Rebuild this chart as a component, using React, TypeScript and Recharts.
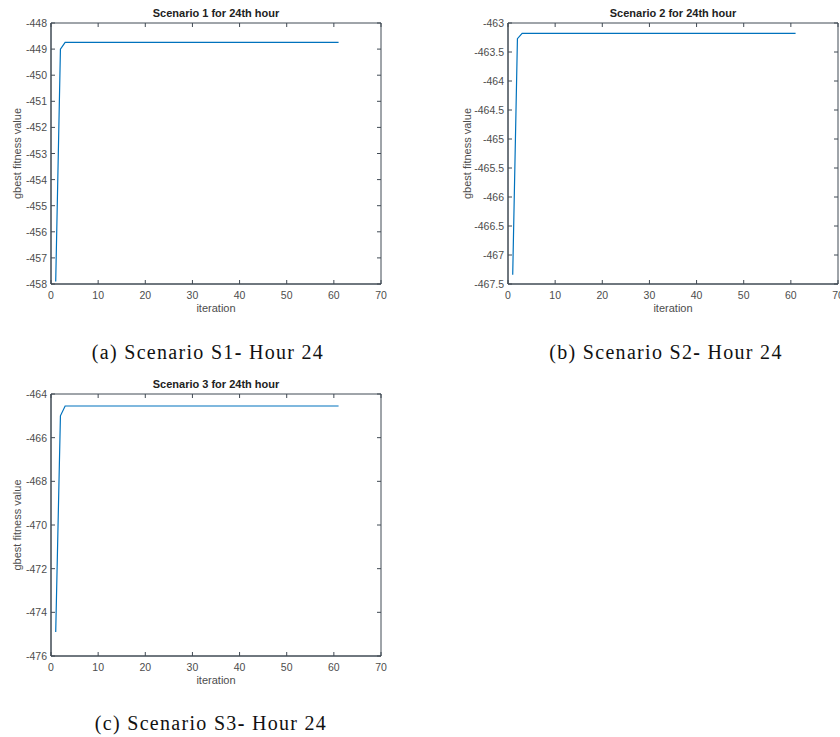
import { LineChart, Line, XAxis, YAxis, ReferenceArea } from 'recharts';

// iterations where the gbest value changes; the curve is flat after the 3rd
const iterations = [1, 2, 3, 61];
const s1Values = [-457.9, -449.0, -448.74, -448.74];
const s2Values = [-467.34, -463.27, -463.18, -463.18];
const s3Values = [-474.9, -465.0, -464.55, -464.55];

const xTicks = [0, 10, 20, 30, 40, 50, 60, 70];
const s1Ticks = [-458, -457, -456, -455, -454, -453, -452, -451, -450, -449, -448];
const s2Ticks = [-467.5, -467, -466.5, -466, -465.5, -465, -464.5, -464, -463.5, -463];
const s3Ticks = [-476, -474, -472, -470, -468, -466, -464];

const titles = ['Scenario 1 for 24th hour', 'Scenario 2 for 24th hour', 'Scenario 3 for 24th hour'];
const captions = ['(a) Scenario S1- Hour 24', '(b) Scenario S2- Hour 24', '(c) Scenario S3- Hour 24'];

const AXIS = '#404a54';
const TEXT = '#4d4d4d';
const LINE = '#0072BD';
const SANS = '"Liberation Sans", Arial, Helvetica, sans-serif';
const TICK_LEN = 4;

// matlab style: ticks point into the box
function BottomTick({ x, y, payload }: any) {
  return (
    <g>
      <line x1={x} x2={x} y1={y} y2={y - TICK_LEN} stroke={AXIS} />
      <text x={x} y={y + 15} textAnchor="middle" fontSize={10.5} fontFamily={SANS} fill={TEXT}>
        {payload.value}
      </text>
    </g>
  );
}

function LeftTick({ x, y, payload }: any) {
  return (
    <g>
      <line x1={x} x2={x + TICK_LEN} y1={y} y2={y} stroke={AXIS} />
      <text x={x - 4} y={y} textAnchor="end" dominantBaseline="central" fontSize={10.5} fontFamily={SANS} fill={TEXT}>
        {payload.value}
      </text>
    </g>
  );
}

function TopTick({ x, y }: any) {
  return <line x1={x} x2={x} y1={y} y2={y + TICK_LEN} stroke={AXIS} />;
}

function RightTick({ x, y }: any) {
  return <line x1={x} x2={x - TICK_LEN} y1={y} y2={y} stroke={AXIS} />;
}

function YLabel({ viewBox, gap, value }: any) {
  const vb = viewBox || { x: 0, y: 0, width: 0, height: 0 };
  const cx = vb.x + vb.width - gap;
  const cy = vb.y + vb.height / 2;
  return (
    <text
      x={cx}
      y={cy}
      transform={`rotate(-90 ${cx} ${cy})`}
      textAnchor="middle"
      dominantBaseline="central"
      fontSize={11}
      fontFamily={SANS}
      fill={TEXT}
    >
      {value}
    </text>
  );
}

function XLabel({ viewBox, value }: any) {
  const vb = viewBox || { x: 0, y: 0, width: 0, height: 0 };
  return (
    <text
      x={vb.x + vb.width / 2}
      y={vb.y + 24}
      textAnchor="middle"
      dominantBaseline="central"
      fontSize={11}
      fontFamily={SANS}
      fill={TEXT}
    >
      {value}
    </text>
  );
}

interface PlotProps {
  left: number;
  top: number;
  plotHeight: number;
  values: number[];
  yTicks: number[];
  title: string;
  yLabelGap: number;
}

function ScenarioPlot({ left, top, plotHeight, values, yTicks, title, yLabelGap }: PlotProps) {
  const data = iterations.map((it, i) => ({ iteration: it, value: values[i] }));
  const yMin = yTicks[0];
  const yMax = yTicks[yTicks.length - 1];
  const width = 400;
  const marginTop = 22;
  const xAxisHeight = 36;
  const plotLeft = 51;
  const plotWidth = 330;
  const height = marginTop + 1 + plotHeight + xAxisHeight;

  return (
    <div style={{ position: 'absolute', left, top, width, height }}>
      <div
        style={{
          position: 'absolute',
          left: plotLeft,
          top: 7,
          width: plotWidth,
          textAlign: 'center',
          fontFamily: SANS,
          fontWeight: 'bold',
          fontSize: 11,
          lineHeight: '13px',
          color: '#222',
        }}
      >
        {title}
      </div>
      <LineChart
        width={width}
        height={height}
        data={data}
        margin={{ top: marginTop, right: width - plotLeft - plotWidth - 1, bottom: 0, left: 0 }}
      >
        <XAxis
          dataKey="iteration"
          type="number"
          domain={[0, 70]}
          ticks={xTicks}
          interval={0}
          allowDataOverflow
          height={xAxisHeight}
          stroke={AXIS}
          tickLine={false}
          tickSize={0}
          tickMargin={0}
          tick={<BottomTick />}
          label={<XLabel value="iteration" />}
        />
        <XAxis
          xAxisId="top"
          orientation="top"
          dataKey="iteration"
          type="number"
          domain={[0, 70]}
          ticks={xTicks}
          interval={0}
          allowDataOverflow
          height={1}
          axisLine={false}
          tickLine={false}
          tickSize={0}
          tickMargin={0}
          tick={<TopTick />}
        />
        <YAxis
          type="number"
          domain={[yMin, yMax]}
          ticks={yTicks}
          interval={0}
          allowDataOverflow
          width={plotLeft}
          stroke={AXIS}
          tickLine={false}
          tickSize={0}
          tickMargin={0}
          tick={<LeftTick />}
          label={<YLabel value="gbest fitness value" gap={yLabelGap} />}
        />
        <YAxis
          yAxisId="right"
          orientation="right"
          type="number"
          domain={[yMin, yMax]}
          ticks={yTicks}
          interval={0}
          allowDataOverflow
          width={1}
          axisLine={false}
          tickLine={false}
          tickSize={0}
          tickMargin={0}
          tick={<RightTick />}
        />
        <ReferenceArea
          x1={0}
          x2={70}
          y1={yMin}
          y2={yMax}
          fill="none"
          stroke={AXIS}
          strokeWidth={1}
          ifOverflow="visible"
        />
        <Line
          type="linear"
          dataKey="value"
          stroke={LINE}
          strokeWidth={1.2}
          dot={false}
          isAnimationActive={false}
        />
      </LineChart>
    </div>
  );
}

function Caption({ text, centerX, centerY }: { text: string; centerX: number; centerY: number }) {
  const [head, tail] = text.split('-');
  return (
    <div
      style={{
        position: 'absolute',
        left: centerX - 200,
        top: centerY - 12,
        width: 400,
        textAlign: 'center',
        fontFamily: '"Liberation Serif", "DejaVu Serif", serif',
        fontSize: 20,
        letterSpacing: 1.3,
        lineHeight: '24px',
        color: '#111',
        whiteSpace: 'nowrap',
      }}
    >
      {head}
      <span style={{ fontWeight: 'bold' }}>-</span>
      {tail}
    </div>
  );
}

export default function App() {
  return (
    <div
      style={{
        position: 'absolute',
        left: 0,
        top: 0,
        width: 840,
        height: 737,
        overflow: 'hidden',
        background: '#fff',
      }}
    >
      <ScenarioPlot left={0} top={0} plotHeight={261} values={s1Values} yTicks={s1Ticks} title={titles[0]} yLabelGap={34} />
      <ScenarioPlot left={457} top={0} plotHeight={261} values={s2Values} yTicks={s2Ticks} title={titles[1]} yLabelGap={41} />
      <ScenarioPlot left={0} top={371} plotHeight={262} values={s3Values} yTicks={s3Ticks} title={titles[2]} yLabelGap={34} />
      <Caption text={captions[0]} centerX={208} centerY={352} />
      <Caption text={captions[1]} centerX={666} centerY={352} />
      <Caption text={captions[2]} centerX={211} centerY={723} />
    </div>
  );
}
